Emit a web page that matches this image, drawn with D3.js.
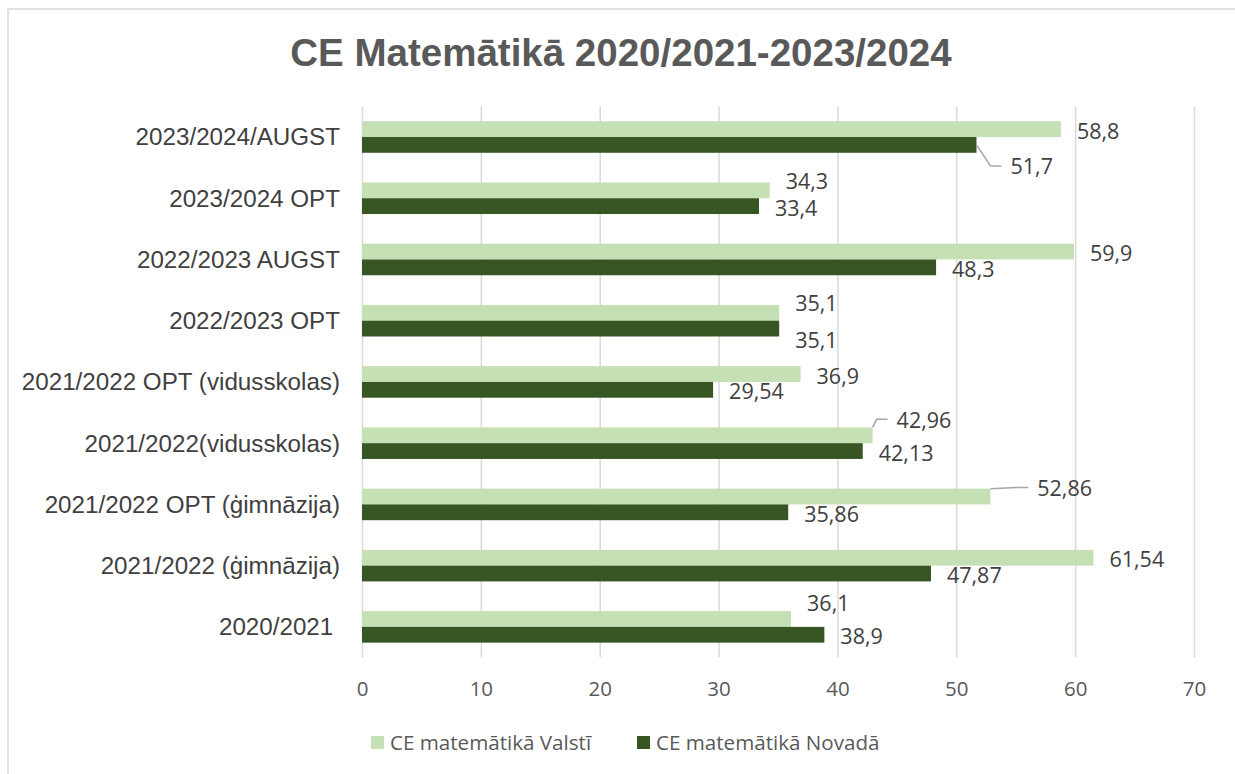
<!DOCTYPE html>
<html>
<head>
<meta charset="utf-8">
<script src="https://cdn.jsdelivr.net/npm/d3@7"></script>
<style>
  html, body { margin: 0; padding: 0; background: #ffffff; }
  svg { display: block; }
</style>
</head>
<body>
<svg id="chart" width="1235" height="774"></svg>
<script>
// ---------------- data ----------------
const title = "CE Matemātikā 2020/2021-2023/2024";
const categories = [
  "2023/2024/AUGST",
  "2023/2024 OPT",
  "2022/2023 AUGST",
  "2022/2023 OPT",
  "2021/2022 OPT (vidusskolas)",
  "2021/2022(vidusskolas)",
  "2021/2022 OPT (ģimnāzija)",
  "2021/2022 (ģimnāzija)",
  "2020/2021 "
];
const seriesNames = ["CE matemātikā Valstī", "CE matemātikā Novadā"];
const valsti = [58.8, 34.3, 59.9, 35.1, 36.9, 42.96, 52.86, 61.54, 36.1];
const novada = [51.7, 33.4, 48.3, 35.1, 29.54, 42.13, 35.86, 47.87, 38.9];
const xTicks = [0, 10, 20, 30, 40, 50, 60, 70];

// label nudges (layout only): [dx, dy, leader?]
const nudgeValsti = [[0,0,0],[0,-11,0],[0,0,0],[0,-11,0],[0,0,0],[8,-17,1],[31,-10,1],[0,0,0],[0,-17,0]];
const nudgeNovada = [[18,20,1],[0,0,0],[0,0,0],[0,10,0],[0,0,0],[0,0,0],[0,0,0],[0,0,0],[0,0,0]];

// ---------------- layout ----------------
const colors = ["#C5E0B4", "#375623"];
const plot = { left: 362, right: 1194, top: 106.4, bottom: 657.5 };

const svg = d3.select("#chart");

// outer border
svg.append("rect")
  .attr("x", 8).attr("y", 9).attr("width", 1240).attr("height", 780)
  .attr("fill", "#ffffff").attr("stroke", "#d9d9d9").attr("stroke-width", 1.5);

// title
svg.append("text")
  .attr("x", 621).attr("y", 66)
  .attr("text-anchor", "middle")
  .attr("font-family", "'Liberation Sans', Arial, sans-serif")
  .attr("font-weight", "bold")
  .attr("font-size", 38.5)
  .attr("fill", "#595959")
  .text(title);

const x = d3.scaleLinear().domain([0, 70]).range([plot.left, plot.right]);
const y0 = d3.scaleBand().domain(categories).range([plot.top, plot.bottom])
  .paddingInner(0.485).paddingOuter(0.2425);
const y1 = d3.scaleBand().domain([0, 1]).range([0, y0.bandwidth()]);

// axis + gridlines
const axis = d3.axisBottom(x).tickValues(xTicks).tickFormat(d3.format("d"))
  .tickSizeInner(-(plot.bottom - plot.top)).tickSizeOuter(0).tickPadding(24);
const gAxis = svg.append("g").attr("transform", `translate(0,${plot.bottom})`).call(axis);
gAxis.select(".domain").remove();
gAxis.selectAll(".tick line").attr("stroke", "#d9d9d9").attr("stroke-width", 1.5);
gAxis.selectAll(".tick text")
  .attr("font-family", "'Open Sans', sans-serif")
  .attr("font-size", 20.5)
  .attr("fill", "#595959");

// category labels
svg.append("g").selectAll("text").data(categories).join("text")
  .attr("x", 340)
  .attr("y", d => y0(d) + y0.bandwidth() / 2)
  .attr("dy", "0.35em")
  .attr("text-anchor", "end")
  .style("white-space", "pre")
  .attr("font-family", "'Liberation Sans', Arial, sans-serif")
  .attr("font-size", 24.2)
  .attr("fill", "#404040")
  .text(d => d);

// bars
const series = [valsti, novada];
const nudges = [nudgeValsti, nudgeNovada];
const gBars = svg.append("g");
series.forEach((vals, si) => {
  gBars.append("g").selectAll("rect").data(vals).join("rect")
    .attr("x", x(0))
    .attr("y", (d, i) => y0(categories[i]) + y1(si))
    .attr("width", d => x(d) - x(0))
    .attr("height", y1.bandwidth())
    .attr("fill", colors[si]);
});

// data labels + leader lines
const fmt = v => String(v).replace(".", ",");
const gLab = svg.append("g");
series.forEach((vals, si) => {
  vals.forEach((v, i) => {
    const [ndx, ndy, leader] = nudges[si][i];
    const barTop = y0(categories[i]) + y1(si);
    const barMid = barTop + y1.bandwidth() / 2;
    const lx = x(v) + 16 + ndx;
    const vc = barMid + 2 + ndy;
    if (leader) {
      const sy = vc < barTop ? barTop : barMid;
      gLab.append("path")
        .attr("d", `M${x(v)},${sy} L${lx - 20},${vc - 1} L${lx - 9},${vc - 1}`)
        .attr("fill", "none").attr("stroke", "#a6a6a6").attr("stroke-width", 1.5);
    }
    gLab.append("text")
      .attr("x", lx).attr("y", vc + 7.5)
      .attr("font-family", "'Open Sans', sans-serif")
      .attr("font-size", 21.5)
      .attr("fill", "#404040")
      .text(fmt(v));
  });
});

// legend
const legendX = [371, 637];
const gLeg = svg.append("g");
seriesNames.forEach((name, i) => {
  gLeg.append("rect").attr("x", legendX[i]).attr("y", 736).attr("width", 13).attr("height", 13)
    .attr("fill", colors[i]);
  gLeg.append("text").attr("x", legendX[i] + 19).attr("y", 749.5)
    .attr("font-family", "'Open Sans', sans-serif")
    .attr("font-size", 20.6)
    .attr("fill", "#595959")
    .text(name);
});
</script>
</body>
</html>
